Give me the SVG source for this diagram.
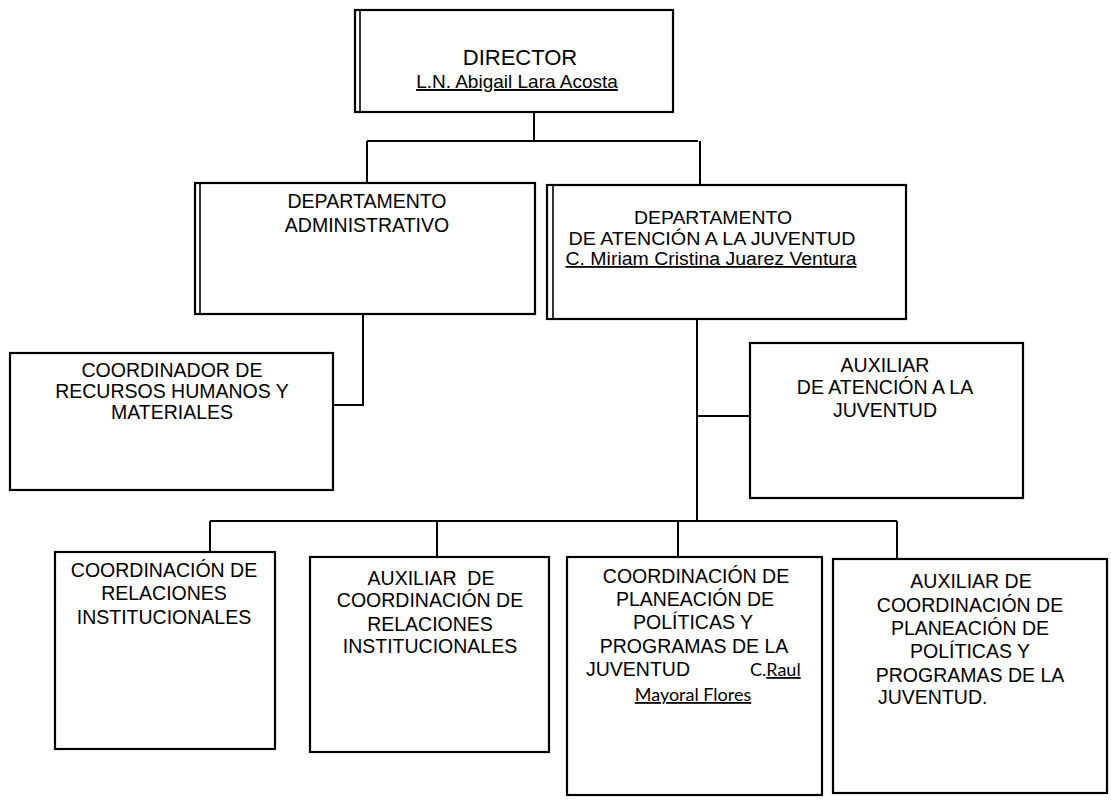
<svg xmlns="http://www.w3.org/2000/svg" width="1111" height="804" viewBox="0 0 1111 804">
<style>
.box{fill:#fff;stroke:#000;stroke-width:2.2}
.dbl{fill:none;stroke:#000;stroke-width:1.6}
.con{fill:none;stroke:#000;stroke-width:2}
text{font-family:"Liberation Sans",Arial,sans-serif;font-size:19.5px;fill:#000;text-anchor:middle}
.big{font-size:22px}
.s{font-size:18px}
.u{text-decoration:underline}
.cal{font-family:Lato,"Open Sans",sans-serif;font-size:18px}
.l{text-anchor:start}
</style>
<rect width="1111" height="804" fill="#fff"/>
<g id="connectors">
<path class="con" d="M534 112V141M367 141H698M367 141V183M700 141V185"/>
<path class="con" d="M363 314V405H333"/>
<path class="con" d="M697 319V522M697 416H750"/>
<path class="con" d="M210 521H897M210 521V552M437 521V557M678 521V557M897 521V559"/>
</g>
<g id="director">
<rect class="box" x="355" y="10" width="318" height="102"/>
<line class="dbl" x1="360" y1="11" x2="360" y2="111"/>
<text class="big" x="520" y="65">DIRECTOR</text>
<text class="u" x="517" y="88" style="font-size:19px">L.N. Abigail Lara Acosta</text>
</g>
<g id="dept-admin">
<rect class="box" x="195" y="183" width="340" height="131"/>
<line class="dbl" x1="200" y1="184" x2="200" y2="313"/>
<text x="367" y="208">DEPARTAMENTO</text>
<text x="367" y="232">ADMINISTRATIVO</text>
</g>
<g id="dept-juventud">
<rect class="box" x="547" y="185" width="359" height="134"/>
<line class="dbl" x1="553" y1="186" x2="553" y2="318"/>
<text class="s" x="713" y="224" textLength="158" lengthAdjust="spacingAndGlyphs">DEPARTAMENTO</text>
<text class="s" x="712" y="244.5" textLength="287" lengthAdjust="spacingAndGlyphs">DE ATENCIÓN A LA JUVENTUD</text>
<text class="s u" x="711" y="265" textLength="291" lengthAdjust="spacingAndGlyphs">C. Miriam Cristina Juarez Ventura</text>
</g>
<g id="coord-rrhh">
<rect class="box" x="10" y="353" width="323" height="137"/>
<text x="172" y="377">COORDINADOR DE</text>
<text x="172" y="398">RECURSOS HUMANOS Y</text>
<text x="172" y="419">MATERIALES</text>
</g>
<g id="aux-juventud">
<rect class="box" x="750" y="343" width="273" height="155"/>
<text x="885" y="372">AUXILIAR</text>
<text x="885" y="394">DE ATENCIÓN A LA</text>
<text x="885" y="417">JUVENTUD</text>
</g>
<g id="coord-relaciones">
<rect class="box" x="55" y="552" width="220" height="197"/>
<text x="164" y="577">COORDINACIÓN DE</text>
<text x="164" y="600">RELACIONES</text>
<text x="164" y="624">INSTITUCIONALES</text>
</g>
<g id="aux-relaciones">
<rect class="box" x="310" y="557" width="239" height="195"/>
<text x="431" y="585" xml:space="preserve">AUXILIAR  DE</text>
<text x="430" y="607">COORDINACIÓN DE</text>
<text x="430" y="631">RELACIONES</text>
<text x="430" y="653">INSTITUCIONALES</text>
</g>
<g id="coord-planeacion">
<rect class="box" x="567" y="557" width="255" height="238"/>
<text x="696" y="583">COORDINACIÓN DE</text>
<text x="695" y="606">PLANEACIÓN DE</text>
<text x="693" y="629">POLÍTICAS Y</text>
<text x="694" y="653">PROGRAMAS DE LA</text>
<text class="l" x="586" y="676">JUVENTUD</text>
<text class="l cal" x="750" y="676">C.<tspan class="u">Raul </tspan></text>
<text class="cal u" x="693" y="701">Mayoral Flores</text>
</g>
<g id="aux-planeacion">
<rect class="box" x="833" y="559" width="274" height="234"/>
<text x="971" y="588">AUXILIAR DE</text>
<text x="970" y="612">COORDINACIÓN DE</text>
<text x="970" y="635">PLANEACIÓN DE</text>
<text x="970" y="658">POLÍTICAS Y</text>
<text x="970" y="682">PROGRAMAS DE LA</text>
<text class="l" x="878" y="704">JUVENTUD.</text>
</g>
</svg>
